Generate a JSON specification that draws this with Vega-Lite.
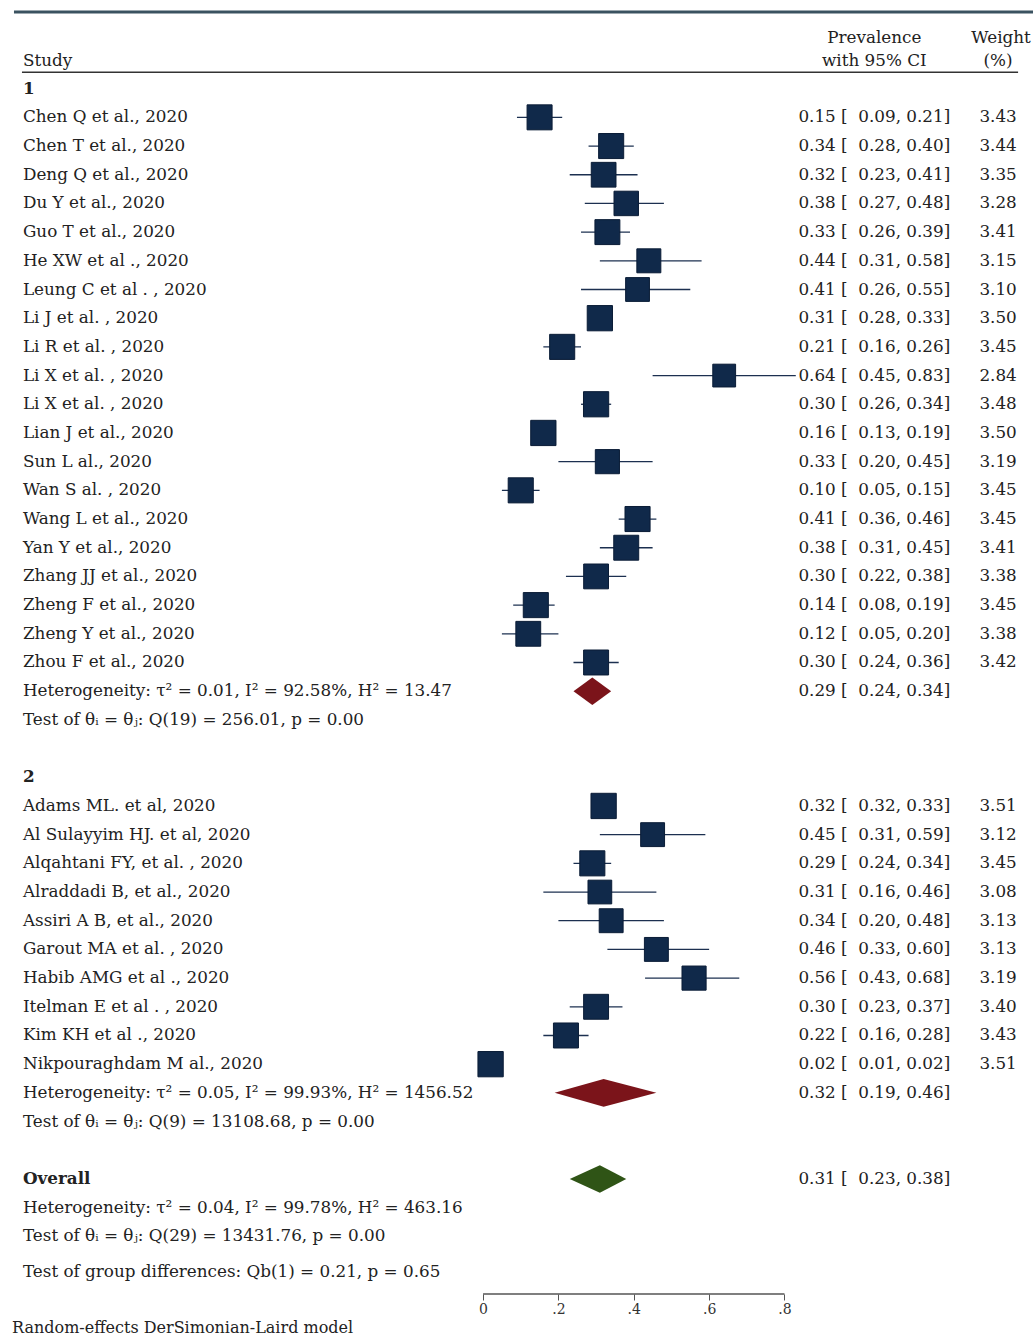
{
  "$schema": "https://vega.github.io/schema/vega-lite/v6.json",
  "autosize": {"type": "fit", "contains": "padding"},
  "width": 1035,
  "height": 1336,
  "padding": 0,
  "background": "white",
  "config": {
    "view": {"stroke": null},
    "font": "DejaVu Serif",
    "text": {"font": "DejaVu Serif", "fontSize": 16.8, "color": "#222"}
  },
  "title": {
    "text": "Random-effects DerSimonian-Laird model",
    "orient": "bottom",
    "anchor": "start",
    "font": "DejaVu Serif",
    "fontSize": 16,
    "fontWeight": "normal",
    "color": "#222",
    "offset": 4,
    "dx": 12
  },
  "datasets": {
    "studies": [
      {"row": 2, "study": "Chen Q et al., 2020", "est": 0.15, "lo": 0.09, "hi": 0.21, "weight": 3.43},
      {"row": 3, "study": "Chen T et al., 2020", "est": 0.34, "lo": 0.28, "hi": 0.40, "weight": 3.44},
      {"row": 4, "study": "Deng Q et al., 2020", "est": 0.32, "lo": 0.23, "hi": 0.41, "weight": 3.35},
      {"row": 5, "study": "Du Y et al., 2020", "est": 0.38, "lo": 0.27, "hi": 0.48, "weight": 3.28},
      {"row": 6, "study": "Guo T et al., 2020", "est": 0.33, "lo": 0.26, "hi": 0.39, "weight": 3.41},
      {"row": 7, "study": "He XW et al ., 2020", "est": 0.44, "lo": 0.31, "hi": 0.58, "weight": 3.15},
      {"row": 8, "study": "Leung C et al . , 2020", "est": 0.41, "lo": 0.26, "hi": 0.55, "weight": 3.10},
      {"row": 9, "study": "Li J et al. , 2020", "est": 0.31, "lo": 0.28, "hi": 0.33, "weight": 3.50},
      {"row": 10, "study": "Li R et al. , 2020", "est": 0.21, "lo": 0.16, "hi": 0.26, "weight": 3.45},
      {"row": 11, "study": "Li X et al. , 2020", "est": 0.64, "lo": 0.45, "hi": 0.83, "weight": 2.84},
      {"row": 12, "study": "Li X et al. , 2020", "est": 0.30, "lo": 0.26, "hi": 0.34, "weight": 3.48},
      {"row": 13, "study": "Lian J et al., 2020", "est": 0.16, "lo": 0.13, "hi": 0.19, "weight": 3.50},
      {"row": 14, "study": "Sun L al., 2020", "est": 0.33, "lo": 0.20, "hi": 0.45, "weight": 3.19},
      {"row": 15, "study": "Wan S al. , 2020", "est": 0.10, "lo": 0.05, "hi": 0.15, "weight": 3.45},
      {"row": 16, "study": "Wang L et al., 2020", "est": 0.41, "lo": 0.36, "hi": 0.46, "weight": 3.45},
      {"row": 17, "study": "Yan Y et al., 2020", "est": 0.38, "lo": 0.31, "hi": 0.45, "weight": 3.41},
      {"row": 18, "study": "Zhang JJ et al., 2020", "est": 0.30, "lo": 0.22, "hi": 0.38, "weight": 3.38},
      {"row": 19, "study": "Zheng F et al., 2020", "est": 0.14, "lo": 0.08, "hi": 0.19, "weight": 3.45},
      {"row": 20, "study": "Zheng Y et al., 2020", "est": 0.12, "lo": 0.05, "hi": 0.20, "weight": 3.38},
      {"row": 21, "study": "Zhou F et al., 2020", "est": 0.30, "lo": 0.24, "hi": 0.36, "weight": 3.42},
      {"row": 26, "study": "Adams ML. et al, 2020", "est": 0.32, "lo": 0.32, "hi": 0.33, "weight": 3.51},
      {"row": 27, "study": "Al Sulayyim HJ. et al, 2020", "est": 0.45, "lo": 0.31, "hi": 0.59, "weight": 3.12},
      {"row": 28, "study": "Alqahtani FY, et al. , 2020", "est": 0.29, "lo": 0.24, "hi": 0.34, "weight": 3.45},
      {"row": 29, "study": "Alraddadi B, et al., 2020", "est": 0.31, "lo": 0.16, "hi": 0.46, "weight": 3.08},
      {"row": 30, "study": "Assiri A B, et al., 2020", "est": 0.34, "lo": 0.20, "hi": 0.48, "weight": 3.13},
      {"row": 31, "study": "Garout MA et al. , 2020", "est": 0.46, "lo": 0.33, "hi": 0.60, "weight": 3.13},
      {"row": 32, "study": "Habib AMG et al ., 2020", "est": 0.56, "lo": 0.43, "hi": 0.68, "weight": 3.19},
      {"row": 33, "study": "Itelman E et al . , 2020", "est": 0.30, "lo": 0.23, "hi": 0.37, "weight": 3.40},
      {"row": 34, "study": "Kim KH et al ., 2020", "est": 0.22, "lo": 0.16, "hi": 0.28, "weight": 3.43},
      {"row": 35, "study": "Nikpouraghdam M al., 2020", "est": 0.02, "lo": 0.01, "hi": 0.02, "weight": 3.51}
    ],
    "summary": [
      {"row": 22, "group": "Group 1", "est": 0.29, "lo": 0.24, "hi": 0.34},
      {"row": 36, "group": "Group 2", "est": 0.32, "lo": 0.19, "hi": 0.46},
      {"row": 39, "group": "Overall", "est": 0.31, "lo": 0.23, "hi": 0.38}
    ],
    "headings": [
      {"row": 1, "text": "1"},
      {"row": 25, "text": "2"},
      {"row": 39, "text": "Overall"}
    ],
    "notes": [
      {"row": 22, "text": "Heterogeneity: τ² = 0.01, I² = 92.58%, H² = 13.47"},
      {"row": 23, "text": "Test of θᵢ = θⱼ: Q(19) = 256.01, p = 0.00"},
      {"row": 36, "text": "Heterogeneity: τ² = 0.05, I² = 99.93%, H² = 1456.52"},
      {"row": 37, "text": "Test of θᵢ = θⱼ: Q(9) = 13108.68, p = 0.00"},
      {"row": 40, "text": "Heterogeneity: τ² = 0.04, I² = 99.78%, H² = 463.16"},
      {"row": 41, "text": "Test of θᵢ = θⱼ: Q(29) = 13431.76, p = 0.00"},
      {"row": 42.25, "text": "Test of group differences: Qb(1) = 0.21, p = 0.65"}
    ]
  },
  "layer": [
    {
      "data": {"values": [{}]},
      "mark": {"type": "rule", "color": "#3a5260", "strokeWidth": 3},
      "encoding": {
        "x": {
          "datum": -1.245,
          "type": "quantitative",
          "scale": {"domain": [-1.2821, 1.4596], "nice": false, "zero": false},
          "axis": {
            "values": [0, 0.2, 0.4, 0.6, 0.8],
            "domain": false,
            "grid": false,
            "title": null,
            "labelExpr": "datum.value == 0 ? '0' : replace(format(datum.value, '.1f'), '0.', '.')",
            "tickSize": 6,
            "tickOffset": 0,
            "tickColor": "#555",
            "labelPadding": 2,
            "labelFont": "DejaVu Serif",
            "labelFontSize": 14,
            "labelColor": "#333"
          }
        },
        "x2": {"datum": 1.4596},
        "y": {
          "datum": -1.671,
          "type": "quantitative",
          "scale": {"domain": [-2.09, 43.01], "reverse": true, "nice": false, "zero": false},
          "axis": null
        }
      }
    },
    {
      "data": {"values": [{}]},
      "mark": {"type": "rule", "color": "#333", "strokeWidth": 1.5},
      "encoding": {
        "x": {"datum": -1.2238, "type": "quantitative"},
        "x2": {"datum": 1.42},
        "y": {"datum": 0.427, "type": "quantitative"}
      }
    },
    {
      "data": {"values": [{}]},
      "mark": {"type": "rule", "color": "#555", "strokeWidth": 1.5},
      "encoding": {
        "x": {"datum": 0, "type": "quantitative"},
        "x2": {"datum": 0.8},
        "y": {"datum": 43.01, "type": "quantitative"}
      }
    },
    {
      "data": {"values": [{}]},
      "mark": {"type": "text", "align": "left", "baseline": "middle"},
      "encoding": {
        "x": {"datum": -1.2212, "type": "quantitative"},
        "y": {"datum": 0.04, "type": "quantitative"},
        "text": {"value": "Study"}
      }
    },
    {
      "data": {"values": [{}]},
      "mark": {"type": "text", "align": "center", "baseline": "middle"},
      "encoding": {
        "x": {"datum": 1.0384, "type": "quantitative"},
        "y": {"datum": -0.76, "type": "quantitative"},
        "text": {"value": "Prevalence"}
      }
    },
    {
      "data": {"values": [{}]},
      "mark": {"type": "text", "align": "center", "baseline": "middle"},
      "encoding": {
        "x": {"datum": 1.0384, "type": "quantitative"},
        "y": {"datum": 0.04, "type": "quantitative"},
        "text": {"value": "with 95% CI"}
      }
    },
    {
      "data": {"values": [{}]},
      "mark": {"type": "text", "align": "center", "baseline": "middle"},
      "encoding": {
        "x": {"datum": 1.3748, "type": "quantitative"},
        "y": {"datum": -0.76, "type": "quantitative"},
        "text": {"value": "Weight"}
      }
    },
    {
      "data": {"values": [{}]},
      "mark": {"type": "text", "align": "center", "baseline": "middle"},
      "encoding": {
        "x": {"datum": 1.3669, "type": "quantitative"},
        "y": {"datum": 0.04, "type": "quantitative"},
        "text": {"value": "(%)"}
      }
    },
    {
      "data": {"name": "headings"},
      "mark": {"type": "text", "align": "left", "baseline": "middle", "fontWeight": "bold"},
      "encoding": {
        "x": {"datum": -1.2212, "type": "quantitative"},
        "y": {"field": "row", "type": "quantitative"},
        "text": {"field": "text"}
      }
    },
    {
      "data": {"name": "notes"},
      "mark": {"type": "text", "align": "left", "baseline": "middle"},
      "encoding": {
        "x": {"datum": -1.2212, "type": "quantitative"},
        "y": {"field": "row", "type": "quantitative"},
        "text": {"field": "text"}
      }
    },
    {
      "data": {"name": "studies"},
      "mark": {"type": "text", "align": "left", "baseline": "middle"},
      "encoding": {
        "x": {"datum": -1.2212, "type": "quantitative"},
        "y": {"field": "row", "type": "quantitative"},
        "text": {"field": "study"}
      }
    },
    {
      "data": {"name": "studies"},
      "mark": {"type": "rule", "color": "#1c3050", "strokeWidth": 1.3},
      "encoding": {
        "x": {"field": "lo", "type": "quantitative"},
        "x2": {"field": "hi"},
        "y": {"field": "row", "type": "quantitative"}
      }
    },
    {
      "data": {"name": "studies"},
      "mark": {"type": "point", "shape": "square", "filled": true, "color": "#10294a", "opacity": 1, "stroke": "#0a1c36", "strokeWidth": 1},
      "encoding": {
        "x": {"field": "est", "type": "quantitative"},
        "y": {"field": "row", "type": "quantitative"},
        "size": {"field": "weight", "type": "quantitative", "scale": {"domain": [2.84, 3.51], "range": [520, 640], "zero": false}, "legend": null}
      }
    },
    {
      "data": {"name": "summary"},
      "transform": [
        {"fold": ["lo", "est", "hi"], "as": ["key", "xv"]},
        {"calculate": "datum.key === 'est' ? 0.48 : 0", "as": "h"},
        {"calculate": "datum.row - datum.h", "as": "top"},
        {"calculate": "datum.row + datum.h", "as": "bot"}
      ],
      "mark": {"type": "area", "opacity": 1},
      "encoding": {
        "x": {"field": "xv", "type": "quantitative"},
        "y": {"field": "top", "type": "quantitative"},
        "y2": {"field": "bot"},
        "color": {
          "field": "group",
          "type": "nominal",
          "scale": {"domain": ["Group 1", "Group 2", "Overall"], "range": ["#7b141a", "#7b141a", "#2f5416"]},
          "legend": null
        }
      }
    },
    {
      "data": {"name": "studies"},
      "transform": [
        {"calculate": "format(datum.est, '.2f') + ' [\u00a0 ' + format(datum.lo, '.2f') + ', ' + format(datum.hi, '.2f') + ']'", "as": "ci"}
      ],
      "mark": {"type": "text", "align": "center", "baseline": "middle"},
      "encoding": {
        "x": {"datum": 1.0384, "type": "quantitative"},
        "y": {"field": "row", "type": "quantitative"},
        "text": {"field": "ci"}
      }
    },
    {
      "data": {"name": "summary"},
      "transform": [
        {"calculate": "format(datum.est, '.2f') + ' [\u00a0 ' + format(datum.lo, '.2f') + ', ' + format(datum.hi, '.2f') + ']'", "as": "ci"}
      ],
      "mark": {"type": "text", "align": "center", "baseline": "middle"},
      "encoding": {
        "x": {"datum": 1.0384, "type": "quantitative"},
        "y": {"field": "row", "type": "quantitative"},
        "text": {"field": "ci"}
      }
    },
    {
      "data": {"name": "studies"},
      "mark": {"type": "text", "align": "center", "baseline": "middle"},
      "encoding": {
        "x": {"datum": 1.3669, "type": "quantitative"},
        "y": {"field": "row", "type": "quantitative"},
        "text": {"field": "weight", "format": ".2f"}
      }
    }
  ]
}
